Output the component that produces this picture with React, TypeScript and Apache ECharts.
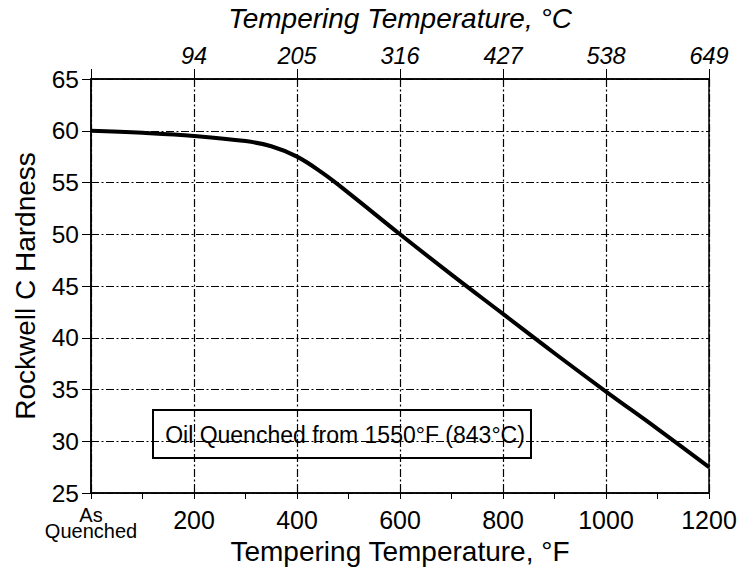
import React, { useEffect, useRef } from "react";
import * as echarts from "echarts";

const tempF = [0, 100, 200, 300, 350, 400, 450, 500, 600, 700, 800, 900, 1000, 1100, 1200];
const hardness = [60.0, 59.8, 59.5, 59.0, 58.5, 57.5, 55.9, 54.0, 50.0, 46.1, 42.3, 38.5, 34.8, 31.2, 27.5];
const celsiusTicks: Record<number, string> = { 200: "94", 400: "205", 600: "316", 800: "427", 1000: "538", 1200: "649" };
const annotation = "Oil Quenched from 1550°F (843°C)";

const FONT = "'Liberation Sans', Arial, sans-serif";
const dash = [8, 2.5, 2, 2.5];

export default function App() {
  const ref = useRef<HTMLDivElement>(null);
  useEffect(() => {
    if (!ref.current) return;
    const chart = echarts.init(ref.current, null, { renderer: "svg" });
    chart.setOption({
      animation: false,
      backgroundColor: "#fff",
      textStyle: { fontFamily: FONT, color: "#000" },
      grid: {
        left: 91, right: 44, top: 79, bottom: 78, show: true, borderColor: "#000", borderWidth: 1.5,
        backgroundColor: "transparent", containLabel: false, outerBoundsMode: "none",
      },
      xAxis: [
        {
          type: "value", min: 0, max: 1200, interval: 200, position: "bottom",
          name: "Tempering Temperature, °F", nameLocation: "middle", nameGap: 44, nameMoveOverlap: false,
          nameTextStyle: { fontSize: 28, color: "#000", fontFamily: FONT },
          axisLine: { show: true, lineStyle: { color: "#000", width: 1.5 } },
          axisTick: { show: true, length: 6, lineStyle: { color: "#000" } },
          minorTick: { show: true, splitNumber: 2, length: 6, lineStyle: { color: "#000" } },
          axisLabel: {
            fontSize: 25, color: "#000", margin: 14, fontFamily: FONT,
            formatter: (v: number) => (v === 0 ? "{s|As}\n{s|Quenched}" : String(v)),
            rich: { s: { fontSize: 20, lineHeight: 16, fontFamily: FONT, color: "#000" } },
          },
          splitLine: { show: true, lineStyle: { color: "#000", width: 1.2, type: dash } },
        },
        {
          type: "value", min: 0, max: 1200, interval: 200, position: "top",
          name: "Tempering Temperature, °C", nameLocation: "middle", nameGap: 47, nameMoveOverlap: false,
          nameTextStyle: { fontSize: 28, fontStyle: "italic", color: "#000", fontFamily: FONT },
          axisLine: { show: true, lineStyle: { color: "#000", width: 1.5 } },
          axisTick: { show: true, length: 10, lineStyle: { color: "#000" } },
          axisLabel: {
            fontSize: 23.5, fontStyle: "italic", color: "#000", margin: 12, fontFamily: FONT,
            formatter: (v: number) => celsiusTicks[v] ?? "",
          },
          splitLine: { show: false },
        },
      ],
      yAxis: {
        type: "value", min: 25, max: 65, interval: 5,
        name: "Rockwell C Hardness", nameLocation: "middle", nameGap: 52, nameMoveOverlap: false,
        nameTextStyle: { fontSize: 28, color: "#000", fontFamily: FONT },
        axisLine: { show: true, lineStyle: { color: "#000", width: 1.5 } },
        axisTick: { show: true, length: 9, lineStyle: { color: "#000" } },
        axisLabel: { fontSize: 24.5, color: "#000", margin: 12, fontFamily: FONT },
        splitLine: { show: true, lineStyle: { color: "#000", width: 1.2, type: dash } },
      },
      series: [
        {
          type: "line", xAxisIndex: 0, data: tempF.map((x, i) => [x, hardness[i]]),
          smooth: 0.4, showSymbol: false, lineStyle: { color: "#000", width: 4 }, z: 5,
        },
      ],
      graphic: [
        {
          type: "group", left: 152, top: 409, z: 100,
          children: [
            { type: "rect", shape: { x: 0, y: 0, width: 378, height: 48 }, style: { fill: "#fff", stroke: "#000", lineWidth: 2 } },
            { type: "text", x: 192, y: 25, style: { text: annotation, fontSize: 23, fontFamily: FONT, fill: "#000", align: "center", verticalAlign: "middle" } },
          ],
        },
      ],
    });
    return () => chart.dispose();
  }, []);
  return <div ref={ref} style={{ width: 753, height: 571, position: "absolute", left: 0, top: 0 }} />;
}
